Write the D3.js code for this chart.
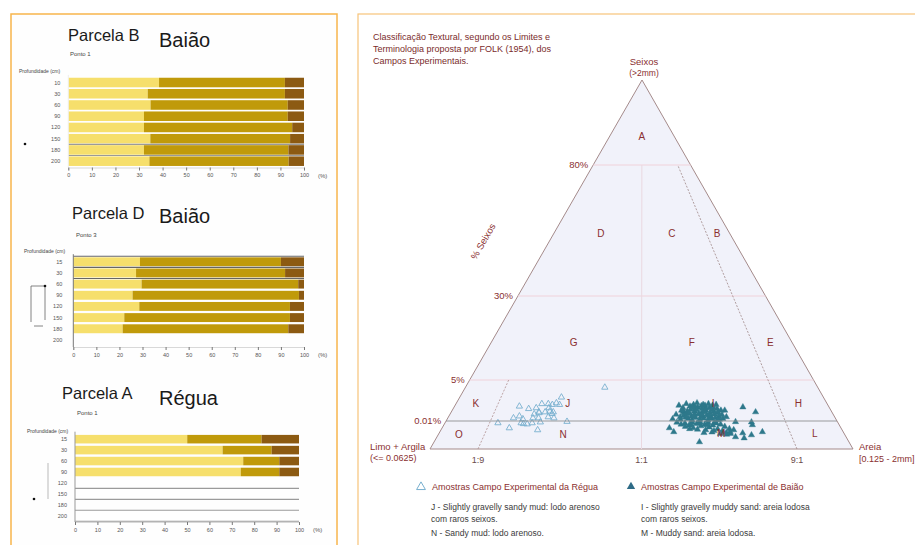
<!DOCTYPE html>
<html><head><meta charset="utf-8">
<script src="https://cdn.jsdelivr.net/npm/d3@7/dist/d3.min.js"></script>
<style>
body{margin:0;background:#fff;}
svg{display:block;font-family:"Liberation Sans",Arial,sans-serif;}
</style></head><body>
<svg id="c" width="915" height="545"></svg>
<script>
// ---------------- DATA ----------------
const percentTicks = [0,10,20,30,40,50,60,70,80,90,100];

// Parcela B – Baião (Ponto 1)
const depthsB = ["10","30","60","90","120","150","180","200"];
const fraction1B = [38.5,33.7,34.9,32.1,32.1,34.8,32.1,34.4];
const fraction2B = [53.4,58.2,58.2,61.0,62.9,59.3,61.3,59.1];
const fraction3B = [8.1,8.1,6.9,6.9,5.0,5.9,6.6,6.5];
const rulesB = ["150","180"];

// Parcela D – Baião (Ponto 3)
const depthsD = ["15","30","60","90","120","150","180","200"];
const fraction1D = [28.9,27.2,29.6,25.7,28.6,22.1,21.4,null];
const fraction2D = [61.1,64.6,67.9,72.1,65.3,71.8,71.8,null];
const fraction3D = [10.0,8.2,2.5,2.2,6.1,6.1,6.8,null];
const rulesD = ["top","15","30"];

// Parcela A – Régua (Ponto 1)
const depthsA = ["15","30","60","90","120","150","180","200"];
const fraction1A = [50.1,65.9,75.1,74.0,null,null,null,null];
const fraction2A = [33.2,21.9,16.1,17.2,null,null,null,null];
const fraction3A = [16.7,12.2,8.8,8.8,null,null,null,null];
const rulesA = ["120","150","180","200"];

// Folk (1954) triangle: gravel % boundaries and sand:(sand+mud) ratio boundaries
const gravelBreaks = [0,0.01,5,30,80,100];
const gravelLabels = ["0.01%","5%","30%","80%"];
const gravelLabelValues = [0.01,5,30,80];
const ratioBreaks = [0,0.1,0.5,0.9,1];
const ratioLabels = ["1:9","1:1","9:1"];
const ratioLabelValues = [0.1,0.5,0.9];

// class labels: [letter, sand fraction, gravel %]
const classLetters = ["A","D","C","B","G","F","E","K","J","I","H","O","N","M","L"];
const classSand    = [0.5,0.259,0.687,0.946,0.266,0.682,0.946,0.046,0.294,0.71,0.942,0.044,0.30,0.714,0.945];
const classGravel  = [86.6,54,54,54,16.3,16.3,16.3,2.2,2.2,2.2,2.2,0.0053,0.0053,0.0055,0.0055];

// samples: [sand/(sand+mud), gravel %]
const reguaSamples = [
 [0.392,4.1],[0.272,2.9],[0.162,1.8],[0.19,1.5],[0.222,2.1],[0.24,2.1],[0.252,2.0],[0.262,2.2],
 [0.272,2.0],[0.21,0.85],[0.221,1.1],[0.222,1.0],[0.238,1.1],[0.25,1.2],[0.26,1.1],[0.158,0.37],
 [0.172,0.6],[0.184,0.25],[0.21,0.37],[0.225,0.37],[0.25,0.5],[0.266,0.37],[0.122,0.0093],[0.183,0.0093],
 [0.19,0.009],[0.2,0.0089],[0.212,0.0093],[0.233,0.0096],[0.303,0.0098],[0.157,0.0075],[0.232,0.0068],[0.21,1.6],
 [0.245,1.6],[0.258,0.9]
];
const baiaoSamples = [
 [0.794,1.7],[0.826,1.1],[0.739,1.3],[0.761,0.0097],[0.805,0.0096],[0.805,0.0086],[0.826,0.0061],[0.794,0.005],
 [0.772,0.0057],[0.772,0.0039],[0.750,0.0043],[0.652,0.0025],[0.576,0.0075],[0.587,0.0061],[0.587,0.25],[0.620,1.2],
 [0.652,1.6],[0.685,1.6],[0.707,1.7],[0.718,0.98],
 [0.609,1.9],[0.620,1.6],[0.631,2.1],[0.641,1.8],[0.641,1.4],[0.652,2.0],[0.652,1.2],[0.663,1.7],[0.663,2.2],
 [0.674,1.5],[0.674,1.1],[0.685,1.9],[0.685,1.3],[0.696,2.1],[0.696,1.6],[0.707,1.2],[0.707,1.9],[0.718,1.5],
 [0.718,2.0],[0.728,1.3],[0.631,1.2],[0.620,1.0],[0.657,1.55],[0.674,1.85],[0.696,1.0],[0.718,1.1],
 [0.598,0.8],[0.609,0.5],[0.620,0.7],[0.631,0.3],[0.631,0.9],[0.641,0.6],[0.641,0.15],[0.652,0.8],[0.652,0.4],
 [0.663,0.9],[0.663,0.2],[0.674,0.6],[0.674,0.35],[0.685,0.75],[0.685,0.1],[0.696,0.5],[0.696,0.25],[0.707,0.85],
 [0.707,0.4],[0.718,0.6],[0.718,0.2],[0.728,0.75],[0.728,0.3],[0.739,0.5],[0.609,0.2],[0.625,0.45],[0.668,0.55],
 [0.690,0.4],[0.712,0.15],
 [0.615,1.3],[0.626,0.55],[0.636,1.0],[0.647,0.65],[0.658,1.35],[0.669,0.85],[0.680,1.15],[0.691,0.7],[0.702,1.4],
 [0.647,1.75],[0.680,2.0],
 [0.598,0.0095],[0.609,0.0088],[0.620,0.0092],[0.620,0.008],[0.631,0.0085],[0.641,0.0095],[0.641,0.0075],
 [0.652,0.009],[0.652,0.007],[0.663,0.0082],[0.663,0.0095],[0.674,0.0088],[0.674,0.0068],[0.685,0.0078],
 [0.685,0.0093],[0.696,0.0085],[0.696,0.0065],[0.707,0.0092],[0.707,0.0072],[0.718,0.0088],[0.718,0.0062],
 [0.728,0.008],[0.728,0.0058],[0.739,0.0072],[0.739,0.0055],[0.750,0.0068],[0.631,0.0072],[0.668,0.0058],
 [0.690,0.006],[0.712,0.0055],[0.718,0.006],[0.728,0.0052],[0.739,0.0062],[0.636,0.0088],[0.658,0.0092],
 [0.680,0.0086],[0.702,0.0094]
];

const titleLines = ["Classificação Textural, segundo os Limites e","Terminologia proposta por FOLK (1954), dos","Campos Experimentais."];
const legendNames = ["Amostras Campo Experimental da Régua","Amostras Campo Experimental de Baião"];
const legendDescLeft = ["J - Slightly gravelly sandy mud: lodo arenoso","com raros seixos.","N - Sandy mud: lodo arenoso."];
const legendDescRight = ["I - Slightly gravelly muddy sand: areia lodosa","com raros seixos.","M - Muddy sand: areia lodosa."];

// ---------------- DRAW ----------------
const svg = d3.select("#c");
svg.append("rect").attr("width",915).attr("height",545).attr("fill","#fff");

// frames
svg.append("rect").attr("x",11).attr("y",14).attr("width",326).attr("height",600)
  .attr("fill","#fefefe").attr("stroke","#f7b54c").attr("stroke-width",1.5);
svg.append("rect").attr("x",358).attr("y",14).attr("width",620).attr("height",600)
  .attr("fill","#fff").attr("stroke","#f7c47a").attr("stroke-width",1.2);

const barColors = ["#f6df6c","#c09a0a","#8c5a12"];

function barPanel(cfg, depths, f1, f2, f3, rules){
  const g = svg.append("g");
  const x = d3.scaleLinear().domain([0,100]).range([cfg.x0,cfg.x1]);
  const y = d3.scaleBand().domain(depths).range([cfg.yTop,cfg.yBot])
    .paddingInner(cfg.pad).paddingOuter(cfg.pad/2);
  const rows = depths.map((d,i)=>({depth:d, vals:[f1[i],f2[i],f3[i]]})).filter(r=>r.vals[0]!=null);
  const stack = d3.stack().keys([0,1,2]).value((r,k)=>r.vals[k]);
  const series = stack(rows);
  series.forEach((s,k)=>{
    g.selectAll(null).data(s).join("rect")
      .attr("x",d=>x(d[0])).attr("width",d=>x(d[1])-x(d[0]))
      .attr("y",d=>y(d.data.depth)).attr("height",y.bandwidth())
      .attr("fill",barColors[k]);
  });
  // rules
  const half = (y.step()-y.bandwidth())/2;
  rules.forEach(r=>{
    const yy = r==="top" ? y(depths[0])-half : y(r)+y.bandwidth()+half;
    g.append("line").attr("x1",cfg.x0).attr("x2",cfg.x1).attr("y1",yy).attr("y2",yy)
      .attr("stroke",cfg.ruleColor).attr("stroke-width",1.1);
  });
  // vertical axis line
  g.append("line").attr("x1",cfg.x0).attr("x2",cfg.x0).attr("y1",cfg.yTop-2).attr("y2",cfg.axisY)
    .attr("stroke",cfg.vColor).attr("stroke-width",1);
  // x axis
  const ax = g.append("g").attr("transform",`translate(0,${cfg.axisY})`)
    .call(d3.axisBottom(x).tickValues(percentTicks).tickSize(3).tickPadding(3).tickFormat(d3.format("d")));
  ax.select(".domain").attr("stroke","#d8d8d8");
  ax.selectAll(".tick line").attr("stroke","#777");
  ax.selectAll("text").attr("font-size",5.5).attr("fill","#555").attr("font-family","Liberation Sans, Arial");
  g.append("text").attr("x",cfg.x1+14).attr("y",cfg.axisY+10).attr("font-size",6).attr("fill","#555").text("(%)");
  // depth labels
  g.selectAll(null).data(depths).join("text")
    .attr("x",cfg.x0-cfg.lblOff).attr("y",d=>y(d)+y.bandwidth()/2+2)
    .attr("text-anchor","end").attr("font-size",5.5).attr("fill","#555").text(d=>d);
  // titles
  g.append("text").attr("x",cfg.tX).attr("y",cfg.tY).attr("font-size",16.5).attr("fill","#1a1a1a").text(cfg.title);
  g.append("text").attr("x",159).attr("y",cfg.sY).attr("font-size",20).attr("fill","#1a1a1a").text(cfg.site);
  g.append("text").attr("x",cfg.pX).attr("y",cfg.pY).attr("font-size",6).attr("fill","#444").text(cfg.ponto);
  g.append("text").attr("x",cfg.dX).attr("y",cfg.dY).attr("font-size",5).attr("fill","#444").text("Profundidade (cm)");
  return g;
}

barPanel({x0:68.3,x1:304,yTop:76.9,yBot:166.8,pad:0.15,axisY:167.5,lblOff:8,ruleColor:"#9a9a9a",vColor:"#eeeeee",
  title:"Parcela B",site:"Baião",ponto:"Ponto 1",tX:68,tY:41,sY:47,pX:70,pY:56,dX:19,dY:73},
  depthsB,fraction1B,fraction2B,fraction3B,rulesB);
barPanel({x0:73.3,x1:304,yTop:256.2,yBot:345.5,pad:0.2,axisY:347,lblOff:11,ruleColor:"#666",vColor:"#777",
  title:"Parcela D",site:"Baião",ponto:"Ponto 3",tX:72,tY:219,sY:223,pX:76,pY:237,dX:24,dY:253},
  depthsD,fraction1D,fraction2D,fraction3D,rulesD);
barPanel({x0:75,x1:299,yTop:433.7,yBot:521.2,pad:0.22,axisY:522,lblOff:8,ruleColor:"#9a9a9a",vColor:"#999",
  title:"Parcela A",site:"Régua",ponto:"Ponto 1",tX:62,tY:399,sY:405,pX:77,pY:415,dX:27,dY:433},
  depthsA,fraction1A,fraction2A,fraction3A,rulesA);

// small depth schematics
const deco = svg.append("g").attr("fill","none").attr("stroke","#666").attr("stroke-width",0.8);
svg.append("circle").attr("cx",25).attr("cy",144).attr("r",1.3).attr("fill","#111");
deco.append("path").attr("d","M45,286 L31,286 L31,322");
deco.append("path").attr("d","M45,286 L45,320");
deco.append("path").attr("d","M34,326 L43,326");
svg.append("circle").attr("cx",45).attr("cy",286).attr("r",1.3).attr("fill","#111");
deco.append("path").attr("d","M48,463 L48,499").attr("stroke","#aaa");
svg.append("circle").attr("cx",34).attr("cy",499).attr("r",1.3).attr("fill","#111");

// ---------------- TRIANGLE ----------------
const apexX = 642, apexY = 80, baseY = 449;
const yG = d3.scaleLinear().domain(gravelBreaks).range([449,421,380,296,165,80]);
const xS = d3.scaleLinear().domain(ratioBreaks).range([430,478,641.5,797,853]);
function pt(s,g){
  const y = yG(g);
  const t = (baseY - y)/(baseY - apexY);
  return [apexX + (xS(s)-apexX)*(1-t), y];
}
const red = "#8a2f2f";
const T = svg.append("g");
T.append("path").attr("d",d3.line()([pt(0,0),pt(0,100),pt(1,0)])+"Z")
  .attr("fill","#f1f2fa").attr("stroke","#a48a8a").attr("stroke-width",1);

// horizontal gravel boundaries 5, 30, 80
[5,30,80].forEach(v=>{
  T.append("path").attr("d",d3.line()([pt(0,v),pt(1,v)])).attr("stroke","#f0d2da").attr("stroke-width",1);
});
// ratio lines
T.append("path").attr("d",d3.line()([pt(0.5,0),pt(0.5,80)])).attr("stroke","#ead8e0").attr("stroke-width",1);
T.append("path").attr("d",d3.line()([pt(0.9,0),pt(0.9,80)])).attr("stroke","#a08888").attr("stroke-width",0.8).attr("stroke-dasharray","2,1.5").attr("fill","none");
T.append("path").attr("d",d3.line()([pt(0.1,0),pt(0.1,5)])).attr("stroke","#b09090").attr("stroke-width",0.8).attr("stroke-dasharray","2,1.5").attr("fill","none");

const sym = d3.symbol().type(d3.symbolTriangle);
// Régua samples
T.selectAll(null).data(reguaSamples).join("path")
  .attr("d",sym.size(17)()).attr("transform",d=>`translate(${pt(d[0],d[1])})`)
  .attr("fill","none").attr("stroke","#78b0cf").attr("stroke-width",0.9);
// Baião samples
T.selectAll(null).data(baiaoSamples).join("path")
  .attr("d",sym.size(17)()).attr("transform",d=>`translate(${pt(d[0],d[1])})`)
  .attr("fill","#2e788b").attr("stroke","#2e788b").attr("stroke-width",0.4);

// 0.01% line
T.append("path").attr("d",d3.line()([pt(0,0.01),pt(1,0.01)])).attr("stroke","#8c8c8c").attr("stroke-width",1.2).attr("opacity",0.85);

// class letters
T.selectAll(null).data(classLetters).join("text")
  .attr("x",(d,i)=>pt(classSand[i],classGravel[i])[0])
  .attr("y",(d,i)=>pt(classSand[i],classGravel[i])[1]+3.5)
  .attr("text-anchor","middle").attr("font-size",10).attr("fill",red).text(d=>d);

// gravel labels
T.selectAll(null).data(gravelLabels).join("text")
  .attr("x",(d,i)=>pt(0,gravelLabelValues[i])[0]-5)
  .attr("y",(d,i)=>pt(0,gravelLabelValues[i])[1]+3)
  .attr("text-anchor","end").attr("font-size",9.5).attr("fill",red).text(d=>d);
// ratio labels
T.selectAll(null).data(ratioLabels).join("text")
  .attr("x",(d,i)=>xS(ratioLabelValues[i])).attr("y",baseY+14)
  .attr("text-anchor","middle").attr("font-size",9).attr("fill","#6a4a4a").text(d=>d);

T.append("text").attr("transform","translate(486,243) rotate(-60)").attr("text-anchor","middle")
  .attr("font-size",9.5).attr("fill",red).text("% Seixos");
T.append("text").attr("x",644).attr("y",64.5).attr("text-anchor","middle").attr("font-size",9.5).attr("fill",red).text("Seixos");
T.append("text").attr("x",644).attr("y",75.5).attr("text-anchor","middle").attr("font-size",8.5).attr("fill",red).text("(>2mm)");
T.append("text").attr("x",370).attr("y",449.5).attr("font-size",9.5).attr("fill",red).text("Limo + Argila");
T.append("text").attr("x",370).attr("y",461).attr("font-size",9).attr("fill",red).text("(<= 0.0625)");
T.append("text").attr("x",859).attr("y",450).attr("font-size",9.5).attr("fill",red).text("Areia");
T.append("text").attr("x",859).attr("y",461.5).attr("font-size",9).attr("fill",red).text("[0.125 - 2mm]");

// title
svg.selectAll(null).data(titleLines).join("text")
  .attr("x",373).attr("y",(d,i)=>39.5+i*12).attr("font-size",9).attr("fill","#7a2b2b").text(d=>d);

// legend
const L = svg.append("g");
L.append("path").attr("d",d3.symbol().type(d3.symbolTriangle).size(34)()).attr("transform","translate(421,487)")
  .attr("fill","none").attr("stroke","#78b0cf").attr("stroke-width",1);
L.append("path").attr("d",d3.symbol().type(d3.symbolTriangle).size(30)()).attr("transform","translate(631,486.5)")
  .attr("fill","#2e6b86");
L.append("text").attr("x",432).attr("y",490).attr("font-size",9).attr("fill",red).text(legendNames[0]);
L.append("text").attr("x",641).attr("y",490).attr("font-size",9).attr("fill",red).text(legendNames[1]);
L.selectAll(null).data(legendDescLeft).join("text")
  .attr("x",431).attr("y",(d,i)=>[510,522,535.5][i]).attr("font-size",8.5).attr("fill","#3a3a3a").text(d=>d);
L.selectAll(null).data(legendDescRight).join("text")
  .attr("x",641).attr("y",(d,i)=>[510,522,535.5][i]).attr("font-size",8.5).attr("fill","#3a3a3a").text(d=>d);
</script>
</body></html>
